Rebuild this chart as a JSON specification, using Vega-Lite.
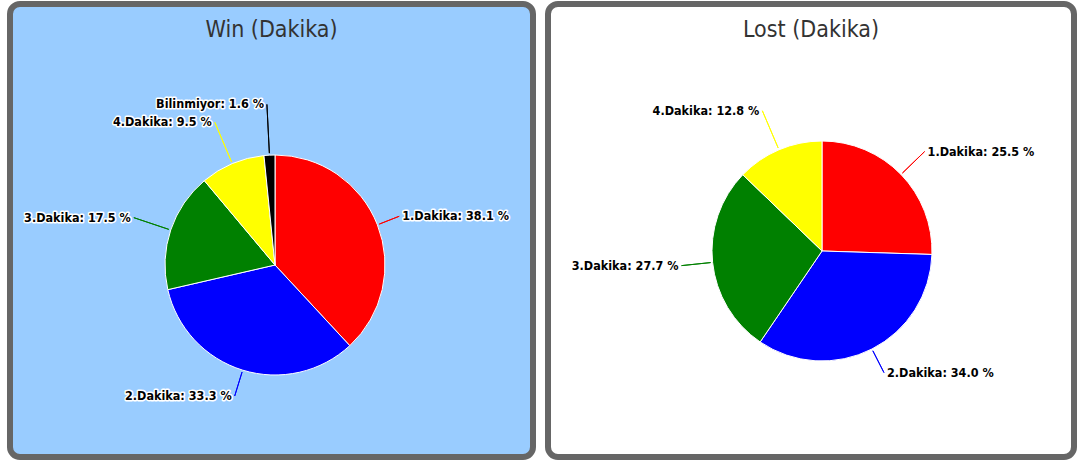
{
  "$schema": "https://vega.github.io/schema/vega-lite/v6.json",
  "padding": {"left": 7, "top": 1, "right": 0, "bottom": 0},
  "background": "white",
  "spacing": 9,
  "config": {
    "title": {"fontSize": 23, "color": "#333333", "fontWeight": "normal", "font": "DejaVu Sans Condensed, Liberation Sans Narrow, Liberation Sans", "offset": -38},
    "text": {"font": "DejaVu Sans Condensed, Liberation Sans Narrow, DejaVu Sans", "fontSize": 12.5, "fontWeight": "bold", "baseline": "middle"}
  },
  "datasets": {
    "win": [
      {"name": "1.Dakika", "value": 38.1},
      {"name": "2.Dakika", "value": 33.3},
      {"name": "3.Dakika", "value": 17.5},
      {"name": "4.Dakika", "value": 9.5},
      {"name": "Bilinmiyor", "value": 1.6}
    ],
    "lost": [
      {"name": "1.Dakika", "value": 25.5},
      {"name": "2.Dakika", "value": 34.0},
      {"name": "3.Dakika", "value": 27.7},
      {"name": "4.Dakika", "value": 12.8}
    ]
  },
  "hconcat": [
    {
      "width": 523,
      "height": 453,
      "view": {"fill": "#99CCFF", "stroke": "#666666", "strokeWidth": 6, "cornerRadius": 10},
      "title": {"text": "Win (Dakika)"},
      "data": {"name": "win"},
      "transform": [
        {"window": [{"op": "sum", "field": "value", "as": "cum"}]},
        {"calculate": "datum.cum - datum.value", "as": "start"},
        {"calculate": "datum.cum - datum.value / 2", "as": "mid"},
        {"calculate": "datum.name + ': ' + format(datum.value, '.1f') + ' %'", "as": "label"}
      ],
      "encoding": {
        "color": {"field": "name", "type": "nominal", "legend": null,
          "scale": {"domain": ["1.Dakika", "2.Dakika", "3.Dakika", "4.Dakika", "Bilinmiyor"], "range": ["#FF0000", "#0000FF", "#008000", "#FFFF00", "#000000"]}}
      },
      "layer": [
        {
          "mark": {"type": "arc", "radius": 110, "stroke": "white", "strokeWidth": 1, "x": 265, "y": 261},
          "encoding": {
            "theta": {"field": "start", "type": "quantitative", "stack": null, "scale": {"domain": [0, 100], "range": [0, 6.283185307]}},
            "theta2": {"field": "cum"}
          }
        },
        {
          "mark": {"type": "arc", "radius2": 112, "filled": false, "strokeWidth": 1, "x": 265, "y": 261},
          "encoding": {
            "theta": {"field": "mid", "type": "quantitative", "stack": null, "scale": {"domain": [0, 100], "range": [0, 6.283185307]}},
            "theta2": {"field": "mid"},
            "radius": {"field": "value", "type": "quantitative", "scale": {"type": "linear", "domain": [0, 40], "range": [162, 132]}},
            "stroke": {"field": "name", "type": "nominal", "legend": null,
              "scale": {"domain": ["1.Dakika", "2.Dakika", "3.Dakika", "4.Dakika", "Bilinmiyor"], "range": ["#FF0000", "#0000FF", "#008000", "#FFFF00", "#000000"]}}
          }
        },
        {
          "transform": [{"filter": "datum.mid < 50"}],
          "mark": {"type": "text", "align": "left", "dx": 3, "stroke": "white", "strokeWidth": 3, "strokeJoin": "round", "x": 265, "y": 261},
          "encoding": {
            "theta": {"field": "mid", "type": "quantitative", "stack": null, "scale": {"domain": [0, 100], "range": [0, 6.283185307]}},
            "radius": {"field": "value", "type": "quantitative", "scale": {"type": "linear", "domain": [0, 40], "range": [162, 132]}},
            "text": {"field": "label"},
            "color": {"value": "white"}
          }
        },
        {
          "transform": [{"filter": "datum.mid < 50"}],
          "mark": {"type": "text", "align": "left", "dx": 3, "x": 265, "y": 261},
          "encoding": {
            "theta": {"field": "mid", "type": "quantitative", "stack": null, "scale": {"domain": [0, 100], "range": [0, 6.283185307]}},
            "radius": {"field": "value", "type": "quantitative", "scale": {"type": "linear", "domain": [0, 40], "range": [162, 132]}},
            "text": {"field": "label"},
            "color": {"value": "black"}
          }
        },
        {
          "transform": [{"filter": "datum.mid >= 50"}],
          "mark": {"type": "text", "align": "right", "dx": -3, "stroke": "white", "strokeWidth": 3, "strokeJoin": "round", "x": 265, "y": 261},
          "encoding": {
            "theta": {"field": "mid", "type": "quantitative", "stack": null, "scale": {"domain": [0, 100], "range": [0, 6.283185307]}},
            "radius": {"field": "value", "type": "quantitative", "scale": {"type": "linear", "domain": [0, 40], "range": [162, 132]}},
            "text": {"field": "label"},
            "color": {"value": "white"}
          }
        },
        {
          "transform": [{"filter": "datum.mid >= 50"}],
          "mark": {"type": "text", "align": "right", "dx": -3, "x": 265, "y": 261},
          "encoding": {
            "theta": {"field": "mid", "type": "quantitative", "stack": null, "scale": {"domain": [0, 100], "range": [0, 6.283185307]}},
            "radius": {"field": "value", "type": "quantitative", "scale": {"type": "linear", "domain": [0, 40], "range": [162, 132]}},
            "text": {"field": "label"},
            "color": {"value": "black"}
          }
        }
      ]
    },
    {
      "width": 526,
      "height": 453,
      "view": {"fill": "white", "stroke": "#666666", "strokeWidth": 6, "cornerRadius": 10},
      "title": {"text": "Lost (Dakika)"},
      "data": {"name": "lost"},
      "transform": [
        {"window": [{"op": "sum", "field": "value", "as": "cum"}]},
        {"calculate": "datum.cum - datum.value", "as": "start"},
        {"calculate": "datum.cum - datum.value / 2", "as": "mid"},
        {"calculate": "datum.name + ': ' + format(datum.value, '.1f') + ' %'", "as": "label"}
      ],
      "encoding": {
        "color": {"field": "name", "type": "nominal", "legend": null,
          "scale": {"domain": ["1.Dakika", "2.Dakika", "3.Dakika", "4.Dakika"], "range": ["#FF0000", "#0000FF", "#008000", "#FFFF00"]}}
      },
      "layer": [
        {
          "mark": {"type": "arc", "radius": 110, "stroke": "white", "strokeWidth": 1, "x": 274, "y": 247},
          "encoding": {
            "theta": {"field": "start", "type": "quantitative", "stack": null, "scale": {"domain": [0, 100], "range": [0, 6.283185307]}},
            "theta2": {"field": "cum"}
          }
        },
        {
          "mark": {"type": "arc", "radius2": 112, "filled": false, "strokeWidth": 1, "x": 274, "y": 247},
          "encoding": {
            "theta": {"field": "mid", "type": "quantitative", "stack": null, "scale": {"domain": [0, 100], "range": [0, 6.283185307]}},
            "theta2": {"field": "mid"},
            "radius": {"field": "value", "type": "quantitative", "scale": {"type": "linear", "domain": [0, 40], "range": [162, 132]}},
            "stroke": {"field": "name", "type": "nominal", "legend": null,
              "scale": {"domain": ["1.Dakika", "2.Dakika", "3.Dakika", "4.Dakika"], "range": ["#FF0000", "#0000FF", "#008000", "#FFFF00"]}}
          }
        },
        {
          "transform": [{"filter": "datum.mid < 50"}],
          "mark": {"type": "text", "align": "left", "dx": 3, "stroke": "white", "strokeWidth": 3, "strokeJoin": "round", "x": 274, "y": 247},
          "encoding": {
            "theta": {"field": "mid", "type": "quantitative", "stack": null, "scale": {"domain": [0, 100], "range": [0, 6.283185307]}},
            "radius": {"field": "value", "type": "quantitative", "scale": {"type": "linear", "domain": [0, 40], "range": [162, 132]}},
            "text": {"field": "label"},
            "color": {"value": "white"}
          }
        },
        {
          "transform": [{"filter": "datum.mid < 50"}],
          "mark": {"type": "text", "align": "left", "dx": 3, "x": 274, "y": 247},
          "encoding": {
            "theta": {"field": "mid", "type": "quantitative", "stack": null, "scale": {"domain": [0, 100], "range": [0, 6.283185307]}},
            "radius": {"field": "value", "type": "quantitative", "scale": {"type": "linear", "domain": [0, 40], "range": [162, 132]}},
            "text": {"field": "label"},
            "color": {"value": "black"}
          }
        },
        {
          "transform": [{"filter": "datum.mid >= 50"}],
          "mark": {"type": "text", "align": "right", "dx": -3, "stroke": "white", "strokeWidth": 3, "strokeJoin": "round", "x": 274, "y": 247},
          "encoding": {
            "theta": {"field": "mid", "type": "quantitative", "stack": null, "scale": {"domain": [0, 100], "range": [0, 6.283185307]}},
            "radius": {"field": "value", "type": "quantitative", "scale": {"type": "linear", "domain": [0, 40], "range": [162, 132]}},
            "text": {"field": "label"},
            "color": {"value": "white"}
          }
        },
        {
          "transform": [{"filter": "datum.mid >= 50"}],
          "mark": {"type": "text", "align": "right", "dx": -3, "x": 274, "y": 247},
          "encoding": {
            "theta": {"field": "mid", "type": "quantitative", "stack": null, "scale": {"domain": [0, 100], "range": [0, 6.283185307]}},
            "radius": {"field": "value", "type": "quantitative", "scale": {"type": "linear", "domain": [0, 40], "range": [162, 132]}},
            "text": {"field": "label"},
            "color": {"value": "black"}
          }
        }
      ]
    }
  ]
}
